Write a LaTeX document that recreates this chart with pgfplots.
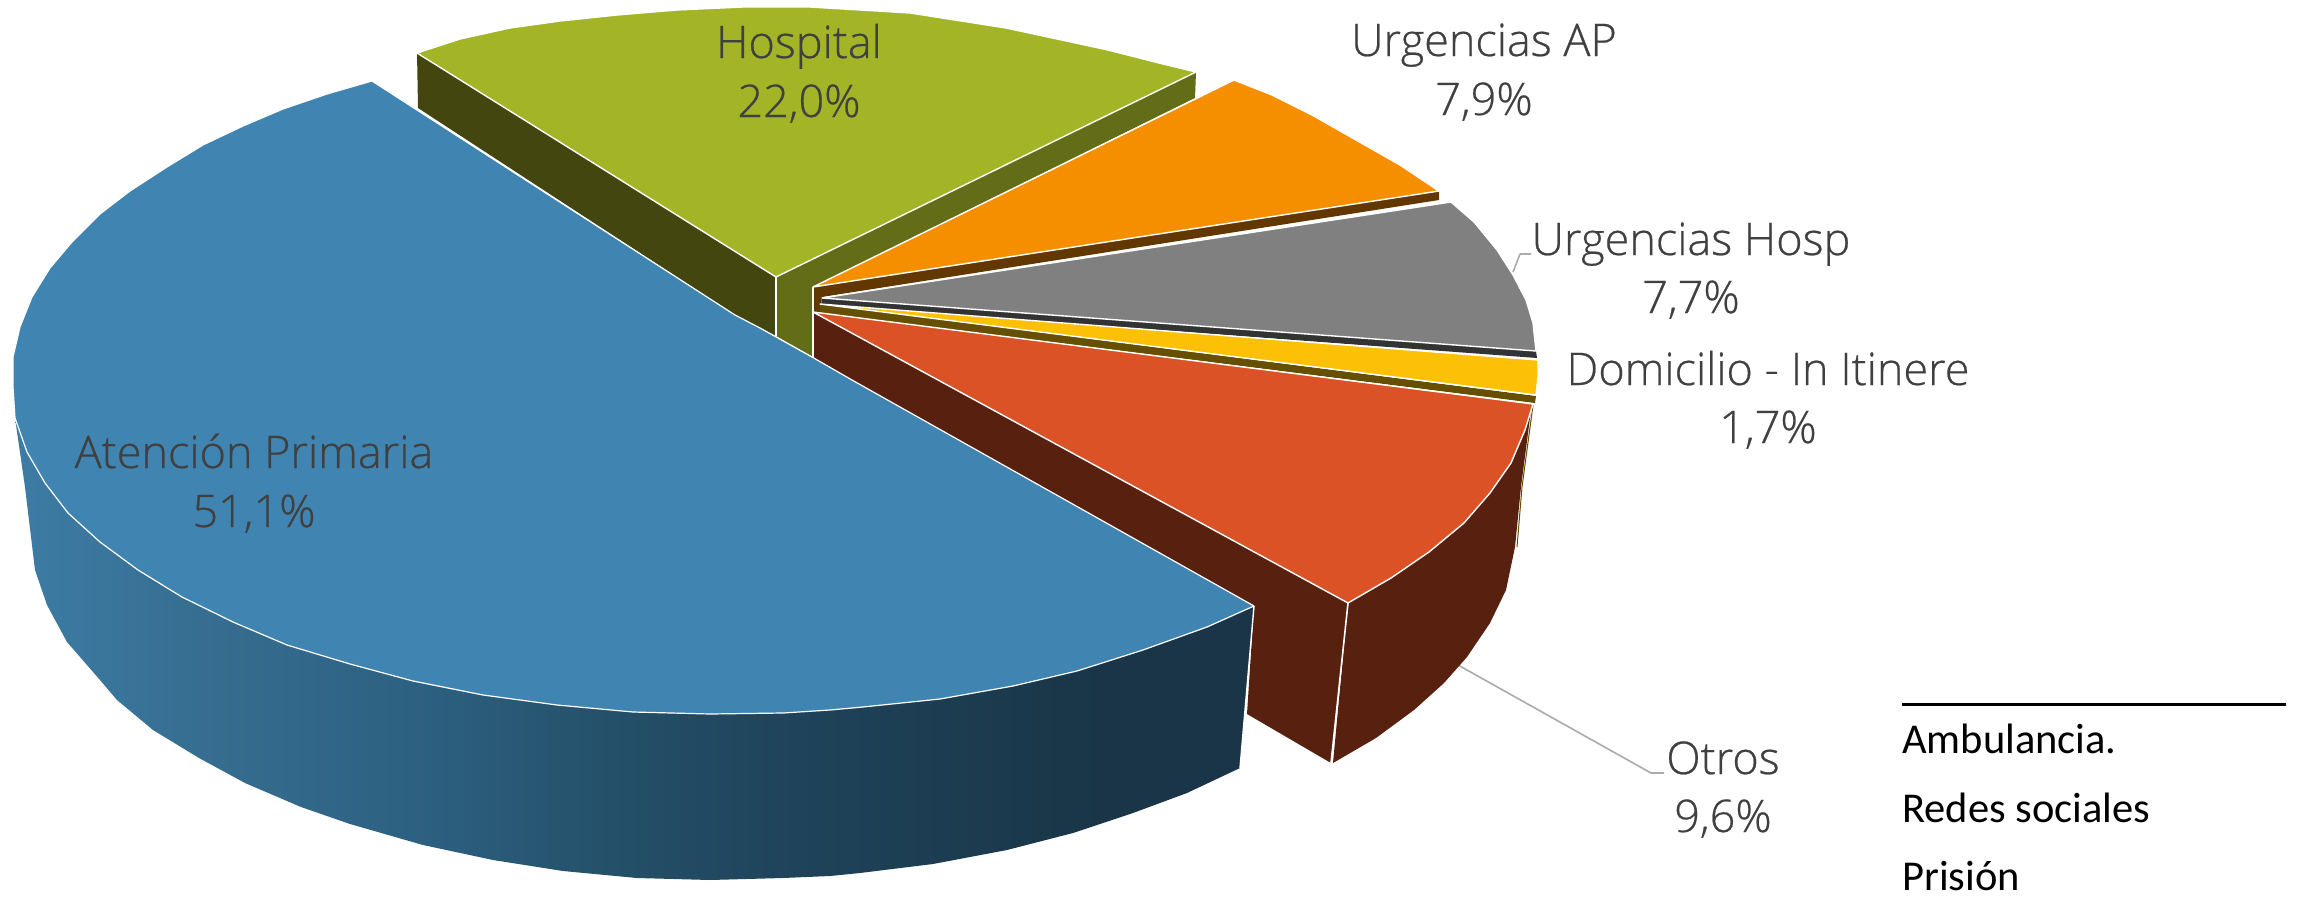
\documentclass[border=0pt]{standalone}
\usepackage{fontspec}
\usepackage{pgfplots}
\pgfplotsset{compat=1.18}
\newfontfamily\lblfont[FakeBold=0.5]{Open Sans Light}
\newfontfamily\noteFont{Carlito}
\definecolor{bluetop}{HTML}{4085B1}
\definecolor{olive}{HTML}{A3B526}
\definecolor{olivedk}{HTML}{43460E}
\definecolor{olivemd}{HTML}{636C17}
\definecolor{orng}{HTML}{F68F00}
\definecolor{brownb}{HTML}{623800}
\definecolor{grayt}{HTML}{808080}
\definecolor{grayd}{HTML}{333333}
\definecolor{yell}{HTML}{FCC006}
\definecolor{yelld}{HTML}{665000}
\definecolor{redt}{HTML}{DC5227}
\definecolor{redd}{HTML}{58200F}
\definecolor{txt}{HTML}{404040}
\definecolor{bsA}{HTML}{3D7CA5}
\definecolor{bsB}{HTML}{366D90}
\definecolor{bsC}{HTML}{2D6182}
\definecolor{bsD}{HTML}{245069}
\definecolor{bsE}{HTML}{1F445B}
\definecolor{bsF}{HTML}{1B3A4D}
\definecolor{bsG}{HTML}{1A3548}
\pgfdeclarehorizontalshading{blueside}{100bp}{
 color(0bp)=(bsA);
 color(25bp)=(bsA);
 color(32.7bp)=(bsB);
 color(41bp)=(bsC);
 color(49.1bp)=(bsD);
 color(55.9bp)=(bsE);
 color(64.8bp)=(bsF);
 color(68.8bp)=(bsG);
 color(100bp)=(bsG)}
\newcommand{\lbl}[3]{\node[anchor=base,inner sep=0pt,text=txt,font=\fontsize{45}{45}\selectfont\lblfont] at (axis cs:#1,#2) {#3};}
\newcommand{\note}[2]{\node[anchor=base west,inner sep=0pt,text=black,font=\fontsize{42.5}{42.5}\selectfont\noteFont] at (axis cs:1902,#1) {#2};}
\begin{document}
\begin{tikzpicture}
\begin{axis}[hide axis, scale only axis, width=2300pt, height=908pt,
  xmin=0, xmax=2300, ymin=0, ymax=908, y dir=reverse, clip=true,
  every axis plot/.append style={line join=round}]
\addplot[fill=white, draw=none] coordinates {(0,0)(2300,0)(2300,908)(0,908)} -- cycle;
% leader lines
\addplot[draw=black!33, line width=1.6pt] coordinates {(1458,665)(1651,773)(1664,773)};
\addplot[draw=black!33, line width=1.6pt] coordinates {(1513,272)(1520,254)(1531,254)};
% side faces
\addplot[fill=olivedk, draw=none] coordinates {(417,52)(776,277)(776,336)(735,315)(418,108)} -- cycle;
\addplot[fill=olivemd, draw=none] coordinates {(776,277)(1196,72)(1195,98)(813,287)(813,357)(776,336)} -- cycle;
\addplot[fill=redd, draw=none] coordinates {(813,312)(1348,603)(1331,763)(1247,714)(1254,606)(852,380)(813,357)} -- cycle;
\addplot[draw=yelld, line width=1pt] coordinates {(1533,405)(1522,487)(1517,547)};
\addplot[fill=redd, draw=none] coordinates {(1348,603)(1532,404)(1531,410)(1521,487)(1515,547)(1506,590)(1490,623)(1467,657)(1444,683)(1414,710)(1376,738)(1333,763)} -- cycle;
\addplot[fill=brownb, draw=none] coordinates {(813,287)(1439,191)(1439,200)(822,297)(820,312)(813,312)} -- cycle;
\addplot[fill=grayd, draw=none] coordinates {(822,298)(1536,351)(1537,358)(821,305)} -- cycle;
\addplot[fill=yelld, draw=none] coordinates {(820,304)(1536,396)(1535,403)(820,313)} -- cycle;
% top faces
\addplot[fill=olive, draw=white, line width=1.4pt] coordinates {(417,53)(460,39)(510,28)(560,21)(617,15)(677,10)(743,7)(810,7)(877,11)(910,13)(955,20)(1006,28)(1057,39)(1108,50)(1159,63)(1196,72)(776,277)} -- cycle;
\addplot[fill=orng, draw=white, line width=1.4pt] coordinates {(813,287)(1234,80)(1272,95)(1312,115)(1363,144)(1400,165)(1439,191)} -- cycle;
\addplot[fill=grayt, draw=white, line width=1.4pt] coordinates {(822,298)(1451,202)(1474,222)(1497,250)(1513,275)(1526,300)(1533,323)(1536,351)} -- cycle;
\addplot[fill=yell, draw=white, line width=1.4pt] coordinates {(820,304)(1538,360)(1538,377)(1536,395)} -- cycle;
\addplot[fill=redt, draw=white, line width=1.4pt] coordinates {(813,312)(1533,404)(1525,430)(1511,463)(1490,493)(1464,523)(1429,552)(1391,578)(1348,603)} -- cycle;
% verticals
\addplot[draw=white, line width=1.6pt] coordinates {(776,277)(776,336)};
\addplot[draw=white, line width=1.6pt] coordinates {(813,287)(813,357)};
\addplot[draw=white, line width=1.6pt] coordinates {(1348,603)(1331,763)};
% blue slice
\addplot[shading=blueside, draw=none] coordinates {(15,418)(25,487)(35,570)(47,605)(67,642)(100,680)(117,700)(153,730)(199,758)(245,783)(301,807)(350,824)(423,845)(493,860)(563,871)(637,878)(710,880)(783,878)(830,876)(860,873)(933,864)(1007,850)(1073,833)(1133,813)(1187,793)(1240,768)(1254,606)(780,500)(300,500)} -- cycle;
\addplot[draw=white, line width=1.4pt] coordinates {(1254,606)(1240,768)};
\addplot[fill=bluetop, draw=white, line width=1.2pt] coordinates {(372,81)(327,94)(283,109)(243,126)(203,145)(167,167)(130,191)(100,214)(72,242)(50,268)(32,297)(20,327)(13,357)(13,387)(15,418)(27,452)(45,483)(68,513)(100,542)(138,570)(182,597)(233,622)(287,645)(350,664)(413,681)(483,695)(557,705)(633,712)(710,714)(783,713)(830,710)(863,707)(940,699)(1013,686)(1077,671)(1143,650)(1207,627)(1254,606)(852,380)(812,357)(760,328)(735,315)} -- cycle;
% labels
\lbl{799}{58}{Hospital}
\lbl{799}{117}{22,0\%}
\lbl{1484}{56}{Urgencias AP}
\lbl{1484}{115}{7,9\%}
\lbl{1691}{255}{Urgencias Hosp}
\lbl{1691}{313}{7,7\%}
\lbl{1768}{385}{Domicilio - In Itinere}
\lbl{1768}{443}{1,7\%}
\lbl{254}{468}{Atención Primaria}
\lbl{254}{527}{51,1\%}
\lbl{1723}{774}{Otros}
\lbl{1723}{832}{9,6\%}
% note
\addplot[draw=black, line width=3pt] coordinates {(1902,704)(2286,704)};
\note{753}{Ambulancia.}
\note{822}{Redes sociales}
\note{890}{Prisión}
\end{axis}
\end{tikzpicture}
\end{document}
